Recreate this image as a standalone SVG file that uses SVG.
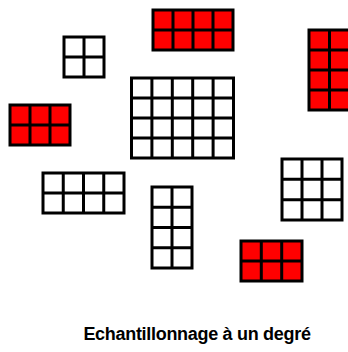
<svg xmlns="http://www.w3.org/2000/svg" width="348" height="352" viewBox="0 0 348 352">
<style>
.box{stroke:#000;stroke-width:3}
.w{fill:#fff}
.r{fill:#ff0000}
.ln{stroke:#000;stroke-width:3;fill:none}
.t{font-family:"Liberation Sans",Arial,sans-serif;font-weight:bold;font-size:18px;letter-spacing:-0.3px;fill:#000}
</style>
<rect width="348" height="352" fill="#fff"/>
<g id="grid-2x2-white"><rect class="box w" x="64" y="37" width="40" height="40"/><path class="ln" d="M84 37V77M64 57H104"/></g>
<g id="grid-4x2-red-top"><rect class="box r" x="153" y="10" width="80" height="40"/><path class="ln" d="M173 10V50M193 10V50M213 10V50M153 30H233"/></g>
<g id="grid-2x4-red-right"><rect class="box r" x="309" y="30" width="42" height="80"/><path class="ln" d="M329.5 30V110M309 50H351M309 70H351M309 90H351"/></g>
<g id="grid-5x4-white"><rect class="box w" x="131.5" y="78" width="102" height="80"/><path class="ln" d="M151.9 78V158M172.3 78V158M192.7 78V158M213.1 78V158M131.5 98H233.5M131.5 118H233.5M131.5 138H233.5"/></g>
<g id="grid-3x2-red-left"><rect class="box r" x="10" y="105" width="60" height="40"/><path class="ln" d="M30 105V145M50 105V145M10 125H70"/></g>
<g id="grid-4x2-white"><rect class="box w" x="43" y="173" width="81" height="40"/><path class="ln" d="M63.25 173V213M83.5 173V213M103.75 173V213M43 193H124"/></g>
<g id="grid-2x4-white"><rect class="box w" x="152" y="187" width="40" height="81"/><path class="ln" d="M172 187V268M152 207.25H192M152 227.5H192M152 247.75H192"/></g>
<g id="grid-3x3-white"><rect class="box w" x="282" y="159" width="60" height="61"/><path class="ln" d="M302 159V220M322 159V220M282 179.3H342M282 199.7H342"/></g>
<g id="grid-3x2-red-bottom"><rect class="box r" x="241" y="241" width="61" height="40"/><path class="ln" d="M261.3 241V281M281.7 241V281M241 261H302"/></g>
<g id="label"><text class="t" x="197" y="340" text-anchor="middle">Echantillonnage à un degré</text></g>
</svg>
